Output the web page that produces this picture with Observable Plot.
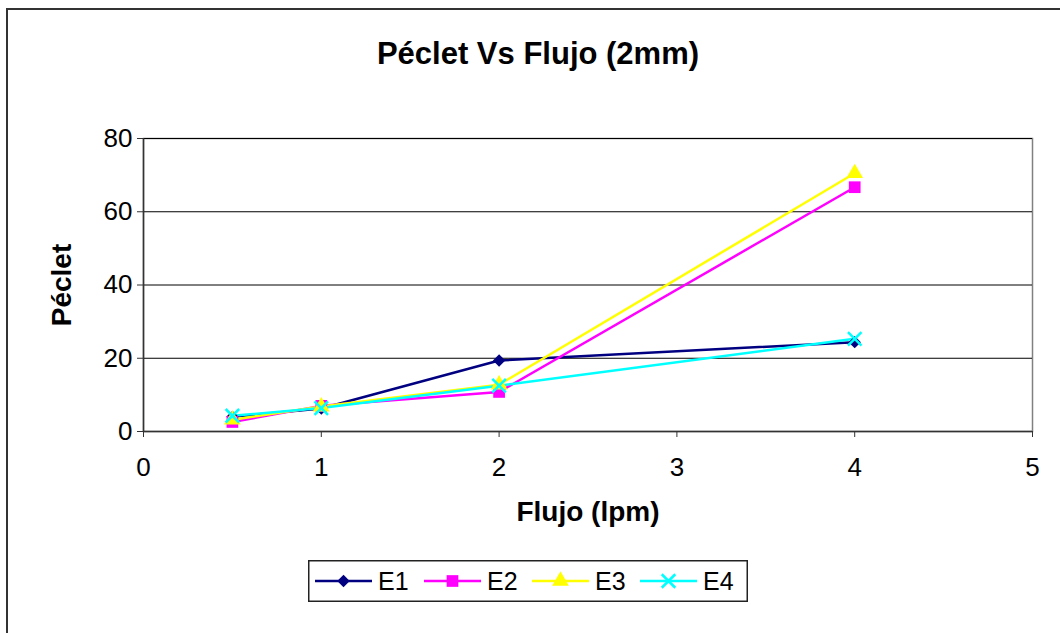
<!DOCTYPE html>
<html>
<head>
<meta charset="utf-8">
<script src="https://cdn.jsdelivr.net/npm/d3@7"></script>
<script src="https://cdn.jsdelivr.net/npm/@observablehq/plot@0.6"></script>
<style>
  body { margin: 0; background: #fff; }
  #wrap {
    position: relative; width: 1060px; height: 633px; overflow: hidden;
    font-family: "Liberation Sans", Arial, sans-serif;
  }
  #border {
    position: absolute; left: 6px; top: 8px; width: 1100px; height: 700px;
    border-left: 2px solid #333; border-top: 2px solid #333; box-sizing: border-box;
  }
  #chart { position: absolute; left: 0; top: 0; }
  #title {
    position: absolute; left: 0; width: 1076px; top: 36px; text-align: center;
    font-weight: bold; font-size: 31px; line-height: 36px; color: #000;
  }
  #legend { position: absolute; left: 308px; top: 560px; }
</style>
</head>
<body>
<div id="wrap">
  <div id="border"></div>
  <div id="chart"></div>
  <div id="title">Péclet Vs Flujo (2mm)</div>
  <div id="legend"></div>
</div>
<script>
// Flow rates (lpm) and Péclet numbers for each experiment
const flujo = [0.5, 1, 2, 4];
const seriesNames = ["E1", "E2", "E3", "E4"];
const E1 = [4.0, 6.3, 19.4, 24.4];
const E2 = [2.6, 7.0, 10.8, 66.7];
const E3 = [3.2, 6.8, 12.8, 70.5];
const E4 = [4.3, 6.4, 12.5, 25.3];
const xTicks = [0, 1, 2, 3, 4, 5];
const yTicks = [0, 20, 40, 60, 80];

const values = [E1, E2, E3, E4];
const colors = ["#000080", "#ff00ff", "#ffff00", "#00ffff"];
const symbols = ["diamond2", "square", "triangle", "times"];
const radii = [5.6, 6.6, 6.2, 6.2];

const rows = seriesNames.flatMap((s, i) =>
  flujo.map((f, j) => ({serie: s, flujo: f, peclet: values[i][j]})));

const font = '"Liberation Sans", Arial, sans-serif';

const lines = seriesNames.map((s, i) =>
  Plot.line(rows.filter(d => d.serie === s), {
    x: "flujo", y: "peclet", stroke: colors[i], strokeWidth: 2.5
  }));

const dots = seriesNames.map((s, i) => {
  const hollow = symbols[i] === "times";
  return Plot.dot(rows.filter(d => d.serie === s), {
    x: "flujo", y: "peclet", symbol: () => symbols[i], r: radii[i],
    fill: hollow ? "none" : colors[i],
    stroke: hollow ? colors[i] : "none",
    strokeWidth: hollow ? 2.5 : 0
  });
});

const chart = Plot.plot({
  width: 1060,
  height: 633,
  marginLeft: 143,
  marginRight: 28,
  marginTop: 138,
  marginBottom: 202,
  style: {fontFamily: font, background: "transparent", color: "#000"},
  x: {domain: [0, 5]},
  y: {domain: [0, 80]},
  symbol: {type: "identity"},
  marks: [
    Plot.frame({stroke: "#808080", strokeWidth: 1.5}),
    Plot.gridY(yTicks.filter(t => t > 0), {stroke: "#000", strokeOpacity: 1, strokeWidth: 1}),
    Plot.ruleY([0], {stroke: "#333", strokeWidth: 1.5}),
    Plot.ruleX([0], {stroke: "#333", strokeWidth: 1.5}),
    Plot.axisY(yTicks, {tickSize: 6, tickPadding: 5, fontSize: 26, label: null, stroke: "#333",
      tickFormat: d3.format("d")}),
    Plot.axisX(xTicks, {tickSize: 6, tickPadding: 20, fontSize: 26, label: null, stroke: "#333",
      tickFormat: d3.format("d")}),
    Plot.text(["Péclet"], {frameAnchor: "left", dx: -81, rotate: -90, textAnchor: "middle",
      fontSize: 28, fontWeight: "bold"}),
    Plot.text(["Flujo (lpm)"], {frameAnchor: "bottom", dy: 89, fontSize: 28, fontWeight: "bold"}),
    ...lines,
    ...dots
  ]
});
document.getElementById("chart").appendChild(chart);

// Legend: line segment with marker, then the series name
const lw = 440, lh = 42;
const leg = d3.select("#legend").append("svg").attr("width", lw).attr("height", lh);
leg.append("rect").attr("x", 0.75).attr("y", 0.75).attr("width", lw - 1.5).attr("height", lh - 1.5)
  .attr("fill", "#fff").attr("stroke", "#222").attr("stroke-width", 1.5);
const itemX = [7, 116, 224, 332];
const symMap = {diamond2: d3.symbolDiamond2, square: d3.symbolSquare, triangle: d3.symbolTriangle, times: d3.symbolTimes};
seriesNames.forEach((s, i) => {
  const g = leg.append("g").attr("transform", `translate(${itemX[i]},${lh / 2})`);
  g.append("line").attr("x1", 0).attr("x2", 57).attr("stroke", colors[i]).attr("stroke-width", 2.5);
  const hollow = symbols[i] === "times";
  g.append("path")
    .attr("transform", "translate(28.5,0)")
    .attr("d", d3.symbol(symMap[symbols[i]], Math.PI * radii[i] * radii[i])())
    .attr("fill", hollow ? "none" : colors[i])
    .attr("stroke", hollow ? colors[i] : "none")
    .attr("stroke-width", 2.5);
  g.append("text").attr("x", 63).attr("dy", "0.36em").attr("font-size", 25)
    .attr("font-family", font).attr("fill", "#000").text(s);
});
</script>
</body>
</html>
